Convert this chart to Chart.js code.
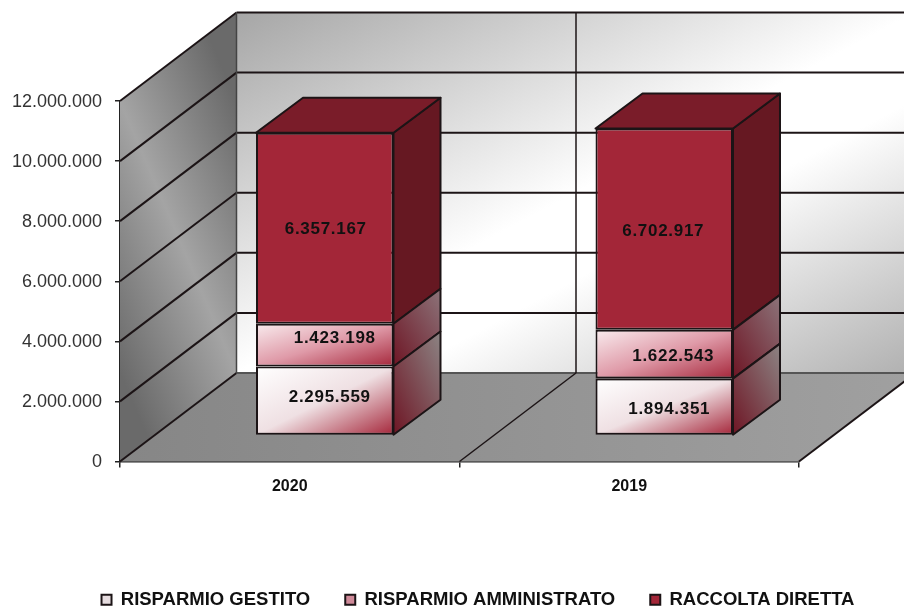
<!DOCTYPE html>
<html>
<head>
<meta charset="utf-8">
<title>Raccolta</title>
<script src="https://cdn.jsdelivr.net/npm/chart.js@4/dist/chart.umd.min.js"></script>
<style>
    html, body { margin: 0; padding: 0; background: #fff; overflow: hidden; }
    canvas { display: block; }
</style>
</head>
<body>
<canvas id="chart1" width="904" height="609"></canvas>
<script>
const categories = ['2020', '2019'];
const risparmioGestito = [2295559, 1894351];
const risparmioAmministrato = [1423198, 1622543];
const raccoltaDiretta = [6357167, 6702917];
const seriesNames = ['RISPARMIO GESTITO', 'RISPARMIO AMMINISTRATO', 'RACCOLTA DIRETTA'];

// room depth, bar position inside it and bar depth
const WALL_DX = 116.5, WALL_DY = 88.5;
const BAR_DX = 35, BAR_DY = 26;
const SIDE_DX = 47, SIDE_DY = 35;

// hand placed value labels, [2020, 2019] for each series
const labelNudgeX = [[5, 5], [10, 9], [1, -1]];
const labelNudgeY = [[-3, 3], [-7, 2], [1, 2]];

const LINE = '#1c1416';

const frontStops = [
    [[0, '#ffffff'], [0.5, '#efe0e3'], [1, '#a5263a']],
    [[0, '#f9ecee'], [0.5, '#df9aa8'], [1, '#a5263a']],
    [[0, '#a32638'], [1, '#a32638']]
];
const sideStops = [
    [[0, '#8c8484'], [1, '#6e1524']],
    [[0, '#8c747a'], [1, '#6e1524']],
    [[0, '#661822'], [1, '#661822']]
];

const formatValue = (v) => String(v).replace(/\B(?=(\d{3})+$)/g, '.');

// gradient running corner to corner over a box, iso lines along the other diagonal
const cornerGradient = (ctx, x0, y0, x1, y1, stops, flip) => {
    const w = x1 - x0, h = y1 - y0;
    const len = Math.hypot(w, h);
    const nx = (flip ? -h : h) / len, ny = w / len;
    const reach = (Math.abs(w) * Math.abs(nx) + Math.abs(h) * Math.abs(ny)) / 2;
    const mx = (x0 + x1) / 2, my = (y0 + y1) / 2;
    const g = ctx.createLinearGradient(mx - nx * reach, my - ny * reach, mx + nx * reach, my + ny * reach);
    stops.forEach(s => g.addColorStop(s[0], s[1]));
    return g;
};

const poly = (ctx, pts, fill, stroke, lw) => {
    ctx.beginPath();
    pts.forEach((p, i) => i ? ctx.lineTo(p[0], p[1]) : ctx.moveTo(p[0], p[1]));
    ctx.closePath();
    if (fill) { ctx.fillStyle = fill; ctx.fill(); }
    if (stroke) {
        ctx.strokeStyle = stroke;
        ctx.lineWidth = lw || 2;
        ctx.lineJoin = 'round';
        ctx.stroke();
    }
};

const segment = (ctx, x0, y0, x1, y1, color, lw) => {
    ctx.beginPath();
    ctx.moveTo(x0, y0);
    ctx.lineTo(x1, y1);
    ctx.strokeStyle = color;
    ctx.lineWidth = lw;
    ctx.stroke();
};

const roomPlugin = {
    id: 'room',
    afterLayout(chart) {
        // legend sits low on the page and a bit right of centre
        const legend = chart.legend;
        legend.top += 10; legend.bottom += 10;
        legend.left += 26; legend.right += 26;
    },
    beforeDatasetsDraw(chart) {
        const ctx = chart.ctx;
        const { left, right, top, bottom } = chart.chartArea;
        const yScale = chart.scales.y, xScale = chart.scales.x;
        const bx0 = left + WALL_DX, bx1 = right + WALL_DX;
        const by0 = top - WALL_DY, by1 = bottom - WALL_DY;

        ctx.save();
        // back wall
        poly(ctx, [[bx0, by0], [bx1, by0], [bx1, by1], [bx0, by1]],
            cornerGradient(ctx, bx0, by0, bx1, by1, [[0, '#a6a6a6'], [0.5, '#ffffff'], [0.62, '#ffffff'], [1, '#b0b0b0']]));
        // side wall
        poly(ctx, [[left, top], [bx0, by0], [bx0, by1], [left, bottom]],
            cornerGradient(ctx, left, top, bx0, by1, [[0, '#6a6a6a'], [0.5, '#a4a4a4'], [1, '#6a6a6a']], true));
        // floor
        const floor = ctx.createLinearGradient(left, 0, right + WALL_DX, 0);
        floor.addColorStop(0, '#868686');
        floor.addColorStop(1, '#a0a0a0');
        poly(ctx, [[left, bottom], [bx0, by1], [bx1, by1], [right, bottom]], floor);

        // gridlines run up the side wall and across the back
        yScale.ticks.forEach(t => {
            const y = yScale.getPixelForValue(t.value);
            const floorLine = t.value === 0;
            segment(ctx, left, y, bx0, y - WALL_DY, LINE, 2);
            segment(ctx, bx0, y - WALL_DY, bx1, y - WALL_DY, floorLine ? '#555555' : LINE, 2);
        });
        segment(ctx, bx0, by0, bx0, by1, '#444444', 1.5);

        // category dividers on floor and back wall
        const cx = (xScale.getPixelForValue(0) + xScale.getPixelForValue(1)) / 2;
        segment(ctx, cx, bottom, cx + WALL_DX, by1, LINE, 1.5);
        segment(ctx, cx + WALL_DX, by1, cx + WALL_DX, by0, LINE, 1.5);
        segment(ctx, right, bottom, bx1, by1, LINE, 2);
        ctx.restore();
    },
    beforeDatasetDraw(chart, args) {
        const ctx = chart.ctx;
        ctx.save();
        ctx.translate(BAR_DX, -BAR_DY);
        args.meta.data.forEach(bar => {
            const x0 = bar.x - bar.width / 2, x1 = bar.x + bar.width / 2;
            bar.options = Object.assign({}, bar.options, {
                backgroundColor: cornerGradient(ctx, x0, bar.y, x1, bar.base, frontStops[args.index])
            });
        });
    },
    afterDatasetDraw(chart, args) {
        const ctx = chart.ctx;
        const last = args.index === chart.data.datasets.length - 1;
        args.meta.data.forEach(bar => {
            const x0 = bar.x - bar.width / 2, x1 = bar.x + bar.width / 2;
            const side = cornerGradient(ctx, x1, bar.y - SIDE_DY, x1 + SIDE_DX, bar.base, sideStops[args.index], true);
            poly(ctx, [[x1, bar.y], [x1 + SIDE_DX, bar.y - SIDE_DY], [x1 + SIDE_DX, bar.base - SIDE_DY], [x1, bar.base]], side, LINE);
            if (last) {
                poly(ctx, [[x0, bar.y], [x0 + SIDE_DX, bar.y - SIDE_DY], [x1 + SIDE_DX, bar.y - SIDE_DY], [x1, bar.y]], '#7a1c29', LINE);
            }
        });
        ctx.restore();
    },
    afterDatasetsDraw(chart) {
        const ctx = chart.ctx;
        ctx.save();
        ctx.font = 'bold 17px "Liberation Sans"';
        ctx.letterSpacing = '0.7px';
        ctx.fillStyle = '#111111';
        ctx.textAlign = 'center';
        ctx.textBaseline = 'middle';
        chart.data.datasets.forEach((ds, i) => {
            chart.getDatasetMeta(i).data.forEach((bar, j) => {
                const x = bar.x + BAR_DX + labelNudgeX[i][j];
                const y = (bar.y + bar.base) / 2 - BAR_DY + labelNudgeY[i][j];
                ctx.fillText(formatValue(ds.data[j]), x, y);
            });
        });
        ctx.restore();
    }
};

Chart.defaults.font.family = '"Liberation Sans", Arial, sans-serif';

const barDefaults = {
    stack: 'raccolta',
    clip: false,
    borderColor: LINE,
    borderWidth: 2,
    borderSkipped: false,
    barPercentage: 0.405,
    categoryPercentage: 1
};

new Chart(document.getElementById('chart1'), {
    type: 'bar',
    plugins: [roomPlugin],
    data: {
        labels: categories,
        datasets: [
            { ...barDefaults, label: seriesNames[0], data: risparmioGestito, backgroundColor: '#e6dcdf' },
            { ...barDefaults, label: seriesNames[1], data: risparmioAmministrato, backgroundColor: '#cf8a99' },
            { ...barDefaults, label: seriesNames[2], data: raccoltaDiretta, backgroundColor: '#a32638' }
        ]
    },
    options: {
        responsive: false,
        animation: false,
        layout: { padding: { top: 101, right: 0, left: 0, bottom: 0 } },
        scales: {
            x: {
                stacked: true,
                afterFit: (scale) => { scale.height = 84; },
                border: { color: '#222222', width: 2.5 },
                grid: { drawOnChartArea: false, color: '#222222', lineWidth: 1.5, tickLength: 6 },
                ticks: { color: '#111111', font: { size: 16, weight: 'bold' }, padding: 9, maxRotation: 0 }
            },
            y: {
                stacked: true,
                min: 0,
                max: 12000000,
                afterFit: (scale) => { scale.width = 120; },
                border: { color: '#222222', width: 1.5 },
                grid: { drawOnChartArea: false, color: '#222222', lineWidth: 1.5, tickLength: 5 },
                ticks: {
                    stepSize: 2000000,
                    color: '#333333',
                    font: { size: 18 },
                    padding: 13,
                    labelOffset: 1,
                    callback: (v) => formatValue(v)
                }
            },
            // empty axis, keeps the room short of the right edge
            spacer: {
                position: 'right',
                afterFit: (scale) => { scale.width = 105; },
                border: { display: false },
                grid: { display: false },
                ticks: { display: false }
            }
        },
        plugins: {
            tooltip: { enabled: false },
            legend: {
                position: 'bottom',
                labels: {
                    color: '#111111',
                    font: { size: 18.5, weight: 'bold' },
                    boxWidth: 10,
                    boxHeight: 10,
                    padding: 35
                }
            }
        }
    }
});
</script>
</body>
</html>
